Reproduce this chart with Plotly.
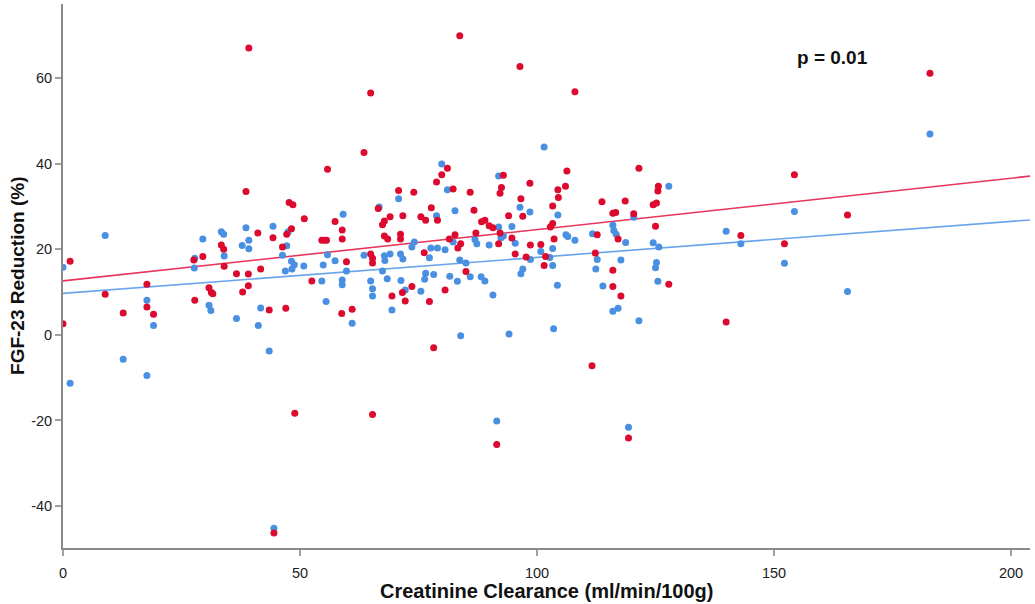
import plotly.graph_objects as go

# Red group: creatinine clearance (x) and FGF-23 reduction (y)
red_x = [0.0, 1.5, 8.9, 12.7, 17.7, 17.7, 19.1, 27.6, 29.5, 27.8, 33.4, 33.9, 34.0, 30.8, 31.3, 31.6,
         38.6, 36.6, 39.1, 39.1, 37.9, 41.1, 44.3, 41.7, 43.5, 47.0, 46.3, 47.2, 48.2, 47.7, 48.5, 50.9,
         52.5, 55.8, 57.4, 54.6, 55.2, 55.6, 58.9, 58.9, 58.8, 48.9, 44.5, 39.2, 83.7, 96.4, 108.0, 64.9,
         63.5, 182.9, 154.3, 165.5, 143.0, 152.2, 139.9, 65.3, 91.5, 119.3, 59.8, 61.0, 66.5, 67.4, 67.8,
         69.0, 67.8, 68.5, 64.9, 65.3, 65.3, 69.4, 70.8, 71.7, 71.2, 71.2, 71.6, 72.2, 73.6, 74.0, 75.5,
         76.5, 77.7, 79.0, 76.2, 77.3, 80.6, 78.2, 78.8, 79.9, 81.1, 82.3, 81.5, 82.7, 83.9, 83.3, 85.0,
         85.9, 86.7, 87.1, 88.3, 89.0, 89.9, 90.7, 91.9, 92.2, 92.2, 92.5, 92.9, 94.0, 94.7, 95.4, 96.6,
         97.0, 98.5, 98.6, 97.7, 100.8, 101.5, 101.8, 103.3, 104.4, 104.5, 103.3, 102.8, 103.6, 106.3,
         106.0, 112.7, 112.3, 113.7, 116.0, 116.6, 117.1, 116.0, 116.0, 117.7, 118.6, 120.4, 121.5, 111.6,
         125.0, 124.5, 125.2, 125.6, 125.5, 127.8]
red_y = [2.6, 17.2, 9.5, 5.1, 11.8, 6.5, 4.8, 17.5, 18.3, 8.1, 21.0, 20.0, 16.0, 11.0, 9.9, 9.6,
         33.5, 14.3, 14.2, 11.5, 10.0, 23.8, 22.7, 15.4, 5.8, 6.2, 20.5, 23.5, 24.8, 30.9, 30.4, 27.1,
         12.6, 38.7, 26.5, 22.1, 22.1, 22.1, 24.5, 22.4, 5.0, -18.3, -46.3, 67.0, 69.9, 62.7, 56.8, 56.5,
         42.6, 61.1, 37.4, 28.0, 23.2, 21.3, 3.0, -18.6, -25.6, -24.1, 17.1, 6.0, 29.5, 25.7, 26.6,
         27.6, 23.1, 22.4, 18.9, 17.9, 16.8, 9.1, 33.7, 27.8, 23.5, 22.4, 9.9, 7.9, 11.3, 33.3, 27.6,
         26.8, 29.7, 26.8, 19.2, 7.8, 10.5, -3.0, 35.7, 37.4, 38.9, 34.1, 22.4, 23.4, 21.3, 20.3, 14.8,
         33.3, 29.1, 23.8, 26.4, 26.8, 25.5, 25.0, 21.3, 23.8, 33.1, 34.4, 37.3, 27.8, 22.6, 18.9, 31.8,
         27.7, 35.4, 21.0, 18.2, 21.1, 16.2, 18.3, 30.1, 33.9, 32.1, 26.0, 25.2, 22.4, 38.3,
         34.7, 23.4, 19.1, 31.1, 28.4, 28.6, 22.4, 15.1, 11.3, 9.1, 31.3, 28.3, 38.9, -7.2,
         25.4, 30.4, 30.8, 34.7, 33.6, 11.8]

# Blue group
blue_x = [0.0, 1.5, 8.9, 12.7, 17.7, 17.7, 19.1, 27.7, 27.8, 29.5, 33.4, 33.9, 34.0, 30.8, 31.2, 36.6,
          38.6, 37.8, 39.2, 39.2, 41.7, 41.2, 43.5, 44.3, 47.2, 46.3, 46.9, 48.2, 48.8, 48.3, 50.8, 47.5,
          54.9, 54.6, 55.5, 55.8, 57.4, 59.1, 58.9, 58.9, 44.5, 101.5, 182.9, 154.3, 139.9, 143.0, 152.2,
          165.5, 91.5, 119.3, 59.8, 61.0, 63.5, 66.7, 64.9, 65.3, 65.3, 67.4, 67.8, 67.9, 69.0, 68.4, 69.4,
          70.8, 71.2, 71.7, 71.3, 72.2, 73.6, 74.1, 75.5, 76.3, 76.5, 77.3, 77.6, 79.0, 78.2, 78.8, 79.9,
          81.1, 80.6, 81.6, 82.7, 82.3, 83.2, 83.7, 85.0, 83.9, 85.9, 86.9, 87.3, 88.2, 89.0, 89.9, 90.7,
          91.9, 91.9, 92.4, 92.9, 94.7, 94.1, 95.4, 96.6, 97.0, 96.4, 98.5, 98.6, 100.8, 102.7, 103.3,
          103.3, 104.3, 103.5, 104.4, 106.1, 106.5, 108.0, 111.7, 112.7, 112.4, 113.9, 116.0, 116.2, 116.7,
          118.7, 117.7, 116.0, 117.1, 121.5, 120.4, 124.5, 125.7, 125.2, 125.0, 125.5, 127.8]
blue_y = [15.8, -11.3, 23.2, -5.7, -9.5, 8.1, 2.2, 15.6, 17.9, 22.4, 24.1, 23.5, 18.4, 6.9, 5.7, 3.8,
          25.0, 20.9, 22.1, 20.1, 6.3, 2.2, -3.8, 25.4, 20.8, 18.6, 14.9, 17.2, 16.4, 15.4, 16.1, 24.1,
          16.3, 12.6, 7.8, 18.7, 17.3, 28.2, 12.8, 11.7, -45.2, 43.9, 46.9, 28.8, 24.2, 21.3, 16.7,
          10.1, -20.1, -21.6, 14.9, 2.7, 18.6, 29.9, 12.6, 10.8, 9.1, 14.9, 18.5, 17.4, 18.9, 13.1, 5.8,
          31.8, 18.9, 17.7, 12.7, 10.5, 20.5, 21.7, 10.2, 13.0, 14.4, 18.0, 20.3, 20.3, 14.1, 27.8, 39.9,
          33.9, 19.9, 13.7, 29.0, 21.7, 12.5, 17.5, 16.8, -0.2, 13.6, 22.3, 21.3, 13.6, 12.6, 21.0, 9.3,
          37.1, 25.2, 22.7, 23.1, 25.3, 0.2, 21.4, 14.3, 15.4, 29.8, 28.7, 17.6, 19.5, 18.1, 20.2,
          16.2, 11.6, 1.4, 28.0, 23.4, 23.0, 22.1, 23.6, 17.6, 15.4, 11.4, 25.6, 24.4, 23.5,
          21.6, 17.5, 5.5, 6.2, 3.3, 27.5, 21.5, 20.5, 16.9, 15.7, 12.5, 34.7]

# Fit lines (intercept, slope)
red_fit = (12.6, 0.120)
blue_fit = (9.7, 0.084)
fit_x = [0, 204]

x_ticks = [0, 50, 100, 150, 200]
x_labels = ["0", "50", "100", "150", "200"]
y_ticks = [-40, -20, 0, 20, 40, 60]
y_labels = ["-40", "-20", "0", "20", "40", "60"]

RED = "#DC0A2E"
BLUE = "#4A90E2"
RED_LINE = "#E8355A"
BLUE_LINE = "#6AA5EC"
FONT = "Liberation Sans, Arial, sans-serif"

fig = go.Figure()
fig.add_trace(go.Scatter(x=fit_x, y=[red_fit[0] + red_fit[1] * v for v in fit_x], mode="lines",
                         line=dict(color=RED_LINE, width=1.6), hoverinfo="skip", showlegend=False))
fig.add_trace(go.Scatter(x=fit_x, y=[blue_fit[0] + blue_fit[1] * v for v in fit_x], mode="lines",
                         line=dict(color=BLUE_LINE, width=1.6), hoverinfo="skip", showlegend=False))
fig.add_trace(go.Scatter(x=blue_x, y=blue_y, mode="markers",
                         marker=dict(color=BLUE, size=7, line=dict(width=0)), showlegend=False))
fig.add_trace(go.Scatter(x=red_x, y=red_y, mode="markers",
                         marker=dict(color=RED, size=7, line=dict(width=0)), showlegend=False))

fig.add_annotation(x=162.4, y=64.7, xref="x", yref="y", text="<b>p = 0.01</b>", showarrow=False,
                   font=dict(family=FONT, size=19, color="#111"))
# axis titles
fig.add_annotation(x=0.5, y=-0.079, xref="paper", yref="paper", text="<b>Creatinine Clearance (ml/min/100g)</b>",
                   showarrow=False, xanchor="center", yanchor="middle",
                   font=dict(family=FONT, size=20, color="#111"))
fig.add_annotation(x=-0.0476, y=0.5, xref="paper", yref="paper", text="<b>FGF-23 Reduction (%)</b>",
                   showarrow=False, xanchor="center", yanchor="middle", textangle=-90,
                   font=dict(family=FONT, size=19, color="#111"))

axis_common = dict(showgrid=False, zeroline=False, showline=True, linecolor="#8a8a8a", linewidth=2,
                   ticks="outside", ticklen=6, tickwidth=2, tickcolor="#a0a0a0", automargin=False,
                   tickfont=dict(family=FONT, size=14.5, color="#222"))

fig.update_xaxes(range=[0, 204], tickvals=x_ticks, ticktext=x_labels, ticklabelstandoff=5, **axis_common)
fig.update_yaxes(range=[-49.8, 77.3], tickvals=y_ticks, ticktext=y_labels, **axis_common)

fig.update_layout(width=1035, height=604, margin=dict(l=63, r=5, t=4, b=56),
                  plot_bgcolor="white", paper_bgcolor="white")

fig.write_html("out.html", config={"displayModeBar": False},
               post_script="document.body.style.margin='0';document.body.style.overflow='hidden';")
